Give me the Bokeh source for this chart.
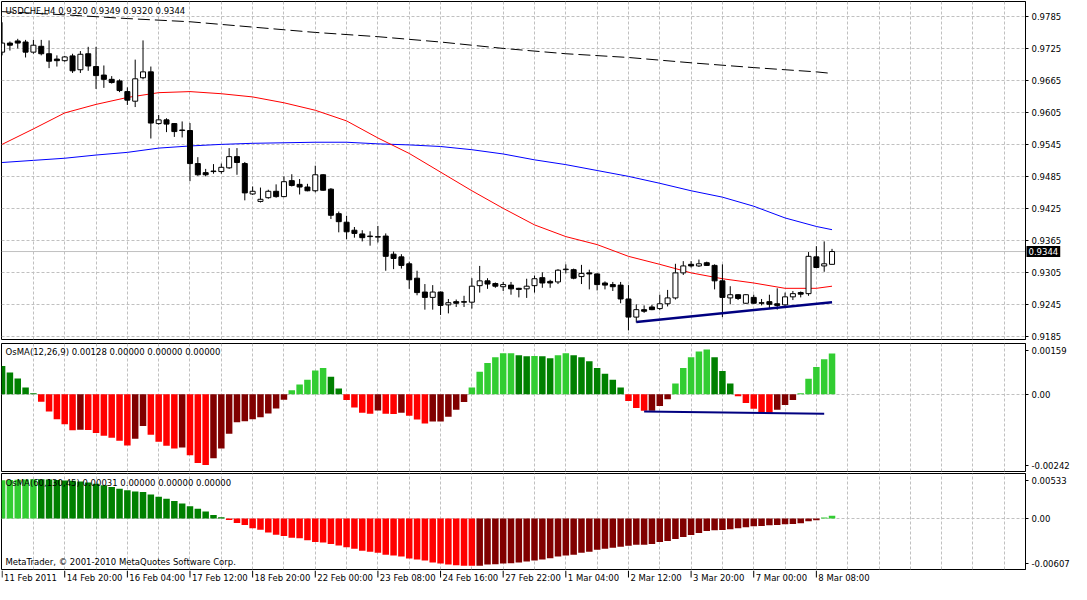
from bokeh.plotting import figure
from bokeh.models import (Range1d, FixedTicker, Grid, LinearAxis, PrintfTickFormatter,
                          Span, Label, ColumnDataSource, GridBox)
from bokeh.core.properties import value
from bokeh.embed import file_html
from bokeh.resources import INLINE

# ---------------- data (USDCHF H4) ----------------
opens = [0.9718, 0.9735, 0.9739, 0.9737, 0.9718, 0.9729, 0.9715, 0.9705, 0.9702, 0.9711,
         0.9685, 0.9715, 0.9691, 0.9675, 0.9667, 0.9664, 0.9644, 0.9626, 0.9670, 0.9681,
         0.9584, 0.9591, 0.9584, 0.9572, 0.9571, 0.9509, 0.9492, 0.9495, 0.9494, 0.9501,
         0.9522, 0.9509, 0.9452, 0.9438, 0.9445, 0.9457, 0.9447, 0.9477, 0.9470, 0.9465,
         0.9458, 0.9488, 0.9461, 0.9415, 0.9399, 0.9384, 0.9377, 0.9373, 0.9371, 0.9373,
         0.9339, 0.9334, 0.9321, 0.9294, 0.9268, 0.9258, 0.9268, 0.9244, 0.9250, 0.9250,
         0.9249, 0.9280, 0.9289, 0.9284, 0.9278, 0.9281, 0.9275, 0.9274, 0.9280, 0.9295,
         0.9288, 0.9287, 0.9310, 0.9310, 0.9297, 0.9304, 0.9302, 0.9285, 0.9282, 0.9281,
         0.9255, 0.9221, 0.9235, 0.9240, 0.9237, 0.9246, 0.9257, 0.9304, 0.9320, 0.9317,
         0.9323, 0.9318, 0.9289, 0.9257, 0.9263, 0.9247, 0.9258, 0.9248, 0.9250, 0.9246,
         0.9244, 0.9259, 0.9267, 0.9265, 0.9334, 0.9317, 0.9320]
highs = [0.9774, 0.9738, 0.9743, 0.9741, 0.9741, 0.9741, 0.9740, 0.9712, 0.9711, 0.9715,
         0.9720, 0.9728, 0.9728, 0.9693, 0.9673, 0.9667, 0.9652, 0.9704, 0.9740, 0.9691,
         0.9600, 0.9594, 0.9585, 0.9588, 0.9585, 0.9521, 0.9499, 0.9508, 0.9509, 0.9538,
         0.9538, 0.9512, 0.9466, 0.9464, 0.9460, 0.9470, 0.9485, 0.9489, 0.9480, 0.9471,
         0.9505, 0.9489, 0.9463, 0.9419, 0.9411, 0.9390, 0.9384, 0.9382, 0.9392, 0.9378,
         0.9344, 0.9339, 0.9325, 0.9308, 0.9283, 0.9281, 0.9269, 0.9255, 0.9254, 0.9261,
         0.9294, 0.9317, 0.9294, 0.9286, 0.9287, 0.9287, 0.9276, 0.9293, 0.9299, 0.9305,
         0.9291, 0.9311, 0.9320, 0.9312, 0.9319, 0.9310, 0.9303, 0.9288, 0.9287, 0.9287,
         0.9281, 0.9245, 0.9243, 0.9244, 0.9263, 0.9272, 0.9321, 0.9326, 0.9326, 0.9329,
         0.9325, 0.9320, 0.9320, 0.9279, 0.9264, 0.9264, 0.9263, 0.9255, 0.9263, 0.9275,
         0.9267, 0.9270, 0.9269, 0.9343, 0.9354, 0.9363, 0.9349]
lows = [0.9712, 0.9721, 0.9725, 0.9708, 0.9715, 0.9712, 0.9688, 0.9691, 0.9700, 0.9679,
        0.9679, 0.9683, 0.9649, 0.9651, 0.9659, 0.9643, 0.9619, 0.9615, 0.9667, 0.9556,
        0.9582, 0.9568, 0.9559, 0.9558, 0.9476, 0.9486, 0.9485, 0.9490, 0.9490, 0.9499,
        0.9488, 0.9440, 0.9450, 0.9436, 0.9443, 0.9445, 0.9446, 0.9466, 0.9451, 0.9457,
        0.9455, 0.9458, 0.9405, 0.9380, 0.9367, 0.9370, 0.9363, 0.9355, 0.9361, 0.9308,
        0.9311, 0.9312, 0.9274, 0.9262, 0.9235, 0.9235, 0.9225, 0.9228, 0.9240, 0.9240,
        0.9237, 0.9267, 0.9274, 0.9276, 0.9270, 0.9263, 0.9258, 0.9257, 0.9267, 0.9276,
        0.9276, 0.9283, 0.9303, 0.9292, 0.9283, 0.9273, 0.9271, 0.9273, 0.9270, 0.9247,
        0.9196, 0.9211, 0.9229, 0.9234, 0.9234, 0.9241, 0.9254, 0.9300, 0.9314, 0.9315,
        0.9317, 0.9273, 0.9221, 0.9245, 0.9253, 0.9246, 0.9246, 0.9243, 0.9238, 0.9235,
        0.9241, 0.9253, 0.9258, 0.9261, 0.9313, 0.9306, 0.9320]
closes = [0.9735, 0.9731, 0.9735, 0.9718, 0.9731, 0.9715, 0.9701, 0.9702, 0.9709, 0.9683,
          0.9714, 0.9692, 0.9674, 0.9667, 0.9661, 0.9646, 0.9628, 0.9668, 0.9681, 0.9585,
          0.9591, 0.9583, 0.9569, 0.9571, 0.9509, 0.9488, 0.9488, 0.9494, 0.9502, 0.9522,
          0.9511, 0.9454, 0.9457, 0.9442, 0.9457, 0.9447, 0.9475, 0.9468, 0.9465, 0.9458,
          0.9488, 0.9459, 0.9412, 0.9400, 0.9381, 0.9378, 0.9370, 0.9372, 0.9372, 0.9335,
          0.9331, 0.9318, 0.9291, 0.9267, 0.9258, 0.9268, 0.9243, 0.9248, 0.9247, 0.9249,
          0.9279, 0.9289, 0.9283, 0.9279, 0.9282, 0.9274, 0.9273, 0.9279, 0.9293, 0.9285,
          0.9285, 0.9309, 0.9311, 0.9294, 0.9303, 0.9302, 0.9282, 0.9281, 0.9278, 0.9255,
          0.9221, 0.9235, 0.9232, 0.9235, 0.9246, 0.9257, 0.9304, 0.9317, 0.9317, 0.9321,
          0.9318, 0.9289, 0.9258, 0.9263, 0.9256, 0.9263, 0.9247, 0.9247, 0.9245, 0.9243,
          0.9259, 0.9265, 0.9264, 0.9335, 0.9314, 0.9321, 0.9344]

# moving averages read at selected bars
ma_bars = [0, 4, 8, 12, 16, 20, 24, 28, 32, 36, 40, 44, 48, 52, 56, 60, 64, 68, 72, 76,
           80, 84, 88, 92, 96, 100, 104, 106]
ma_red = [0.9545, 0.9574, 0.9604, 0.9620, 0.9633, 0.9642, 0.9644, 0.9640, 0.9634, 0.9623,
          0.9609, 0.9589, 0.9557, 0.9528, 0.9493, 0.9458, 0.9425, 0.9394, 0.9372, 0.9357,
          0.9335, 0.9320, 0.9304, 0.9293, 0.9285, 0.9275, 0.9275, 0.9279]
ma_blue = [0.9511, 0.9515, 0.9519, 0.9525, 0.9530, 0.9538, 0.9542, 0.9545, 0.9547, 0.9548,
           0.9549, 0.9549, 0.9546, 0.9544, 0.9541, 0.9535, 0.9527, 0.9516, 0.9507, 0.9496,
           0.9485, 0.9472, 0.9458, 0.9446, 0.9429, 0.9407, 0.9391, 0.9385]
ma_long_bars = [0, 8, 16, 24, 32, 40, 48, 56, 64, 72, 80, 88, 96, 104, 106]
ma_long = [0.9794, 0.9788, 0.9781, 0.9775, 0.9765, 0.9755, 0.9747, 0.9737, 0.9725, 0.9715,
           0.9708, 0.9698, 0.9689, 0.9681, 0.9678]

trend_bars = [81, 106]
trend_price = [0.9212, 0.9249]

osma1 = [0.000885, 0.00068, 0.00049, 0.000214, 0.00003, -0.000235, -0.00054, -0.000783,
         -0.000936, -0.001125, -0.00111, -0.00112, -0.00121, -0.0013, -0.001363, -0.001455,
         -0.001607, -0.001394, -0.000997, -0.001272, -0.001485, -0.00161, -0.0017, -0.00167,
         -0.001912, -0.002156, -0.002217, -0.002004, -0.0017, -0.001241, -0.000875, -0.000845,
         -0.000784, -0.000723, -0.000601, -0.000448, -0.000174, 0.000122, 0.000305, 0.000458,
         0.000742, 0.000824, 0.000549, 0.000183, -0.000178, -0.000418, -0.00058, -0.00061,
         -0.000509, -0.00061, -0.000615, -0.00058, -0.000671, -0.000793, -0.000915, -0.000854,
         -0.00085, -0.000702, -0.000488, -0.000244, 0.000214, 0.000702, 0.000976, 0.001159,
         0.001281, 0.001285, 0.00122, 0.00119, 0.001195, 0.001188, 0.001128, 0.00122,
         0.001281, 0.00122, 0.001159, 0.001037, 0.000824, 0.00064, 0.000458, 0.000214,
         -0.000214, -0.000427, -0.000519, -0.000515, -0.000366, -0.000153, 0.000336, 0.000824,
         0.001159, 0.001342, 0.001403, 0.001159, 0.000732, 0.000336, -0.000061, -0.000275,
         -0.000458, -0.000575, -0.00058, -0.000488, -0.000336, -0.000183, 0.00003, 0.000488,
         0.000854, 0.001098, 0.00128]
osma1_trend_bars = [82, 105]
osma1_trend = [-0.00054, -0.00061]

osma2 = [0.00454, 0.00457, 0.0046, 0.00463, 0.00466, 0.00465, 0.00462, 0.00455, 0.0045, 0.00446,
         0.00439, 0.00427, 0.00411, 0.00392, 0.00372, 0.00353, 0.00334, 0.00318, 0.00312, 0.00283,
         0.00256, 0.00233, 0.00206, 0.00178, 0.00143, 0.00113, 0.00081, 0.00039, 0.00012, -0.0002,
         -0.00054, -0.00078, -0.00116, -0.00136, -0.00167, -0.00194, -0.0021, -0.00229, -0.00237,
         -0.0026, -0.00279, -0.00287, -0.00303, -0.00322, -0.00343, -0.00361, -0.00384, -0.00396,
         -0.00407, -0.00431, -0.00442, -0.00454, -0.00477, -0.00489, -0.005, -0.00524, -0.00535,
         -0.00547, -0.00557, -0.00561, -0.00563, -0.00561, -0.00548, -0.00545, -0.00536, -0.00533,
         -0.00524, -0.00512, -0.005, -0.00489, -0.00473, -0.00454, -0.00442, -0.00431, -0.00407,
         -0.00396, -0.00372, -0.00361, -0.00349, -0.00338, -0.00326, -0.00314, -0.00312, -0.00303,
         -0.00279, -0.00268, -0.00244, -0.00221, -0.00198, -0.00175, -0.00151, -0.0014, -0.00138,
         -0.00128, -0.00116, -0.00105, -0.00093, -0.00091, -0.00081, -0.00079, -0.0007, -0.00068,
         -0.00058, -0.00035, -0.00023, 0.0001, 0.00031]

price_ticks = [0.9185, 0.9245, 0.9305, 0.9365, 0.9425, 0.9485, 0.9545, 0.9605, 0.9665,
               0.9725, 0.9785]
osma1_range = (-0.00242, 0.00159)
osma2_range = (-0.00607, 0.00533)
main_range = (0.9179, 0.9813)

date_bars = [0, 8, 16, 24, 32, 40, 48, 56, 64, 72, 80, 88, 96, 104]
date_labels = ["11 Feb 2011", "14 Feb 20:00", "16 Feb 04:00", "17 Feb 12:00", "18 Feb 20:00",
               "22 Feb 00:00", "23 Feb 08:00", "24 Feb 16:00", "27 Feb 22:00", "1 Mar 04:00",
               "2 Mar 12:00", "3 Mar 20:00", "7 Mar 00:00", "8 Mar 08:00"]

# ---------------- styling ----------------
FONT = "DejaVu Sans"
FS = "8.5px"
GRID = "#c0c0c0"
LIME, GREEN, RED, MAROON = "#32CD32", "#008000", "#FF0000", "#800000"
X0, X1 = -0.075, 130.71
FW = 1024
LB, RB = 1, 46
n = len(opens)
bars = list(range(n))
vgrid = list(range(4, 131, 4))
xr = Range1d(X0, X1)


def make_fig(fh, yr, top=1, bottom=1, outline=True):
    p = figure(frame_width=FW, frame_height=fh, x_range=xr, y_range=yr,
               x_axis_type=None, y_axis_type=None, toolbar_location=None,
               output_backend="svg", min_border_left=LB, min_border_right=RB,
               min_border_top=top, min_border_bottom=bottom)
    p.background_fill_color = "white"
    p.border_fill_color = "white"
    if outline:
        p.outline_line_color = "black"
        p.outline_line_alpha = 1.0
        p.outline_line_width = 1
    else:
        p.outline_line_color = None
    return p


def add_grids(p, yticks):
    p.add_layout(Grid(dimension=0, ticker=FixedTicker(ticks=vgrid), grid_line_color=GRID,
                      grid_line_dash="3 2", grid_line_width=1))
    p.add_layout(Grid(dimension=1, ticker=FixedTicker(ticks=yticks), grid_line_color=GRID,
                      grid_line_dash="3 2", grid_line_width=1))


def right_axis(ticks, formatter=None, overrides=None):
    ax = LinearAxis(ticker=FixedTicker(ticks=ticks), axis_line_color="black",
                    major_tick_line_color="black", major_tick_out=3, major_tick_in=0,
                    minor_tick_line_color=None, major_label_standoff=3,
                    major_label_text_font=FONT, major_label_text_font_size=FS,
                    major_label_text_color="black")
    if formatter is not None:
        ax.formatter = formatter
    if overrides is not None:
        ax.major_label_overrides = overrides
    return ax


def osma_colors(vals):
    cols = []
    for i, v in enumerate(vals):
        d = (vals[1] - vals[0]) if i == 0 else v - vals[i - 1]
        if v >= 0:
            cols.append(LIME if d > 0 else GREEN)
        else:
            cols.append(MAROON if d > 0 else RED)
    return cols


def edge_ticks(yr, fh):
    span = yr[1] - yr[0]
    t_top = round(yr[1] - span * 7.0 / fh, 7)
    t_bot = round(yr[0] + span * 6.0 / fh, 7)
    return t_top, t_bot


# ---------------- main pane ----------------
H1, H2, H3, H4 = 338, 128, 96, 14
yr_main = Range1d(*main_range)
p1 = make_fig(H1, yr_main, top=1, bottom=3)
add_grids(p1, price_ticks)
p1.add_layout(right_axis(price_ticks, PrintfTickFormatter(format="%.4f")), "right")
p1.add_layout(Span(location=closes[-1], dimension="width", line_color=GRID, line_width=1,
                   level="underlay"))

p1.line(ma_long_bars, ma_long, line_color="black", line_width=1, line_dash="12 5")
p1.line(ma_bars, ma_blue, line_color="#0000FF", line_width=1)
p1.line(ma_bars, ma_red, line_color="#FF0000", line_width=1)

csrc = ColumnDataSource(dict(
    x=bars, high=highs, low=lows,
    top=[max(o, c) for o, c in zip(opens, closes)],
    bottom=[min(o, c) for o, c in zip(opens, closes)],
    fill=["white" if c >= o else "black" for o, c in zip(opens, closes)],
))
p1.segment(x0="x", y0="low", x1="x", y1="high", source=csrc, line_color="black", line_width=1)
p1.vbar(x="x", top="top", bottom="bottom", width=0.64, source=csrc, fill_color="fill",
        line_color="black", line_width=1)
p1.line(trend_bars, trend_price, line_color="#000080", line_width=2.5)

p1.add_layout(Label(x=0.45, y=0.9796, text="USDCHF,H4  %.4f %.4f %.4f %.4f" % (
    opens[-1], highs[-1], lows[-1], closes[-1]), text_font=FONT, text_font_size=FS,
    text_color="black", text_baseline="middle"))

# transparent twin of the main pane (same geometry) carrying the current-price marker
pov = make_fig(H1, yr_main, top=1, bottom=3, outline=False)
pov.background_fill_color = None
pov.border_fill_color = None
pov.add_layout(Label(x=X1, y=closes[-1], x_offset=1, text="%.4f" % closes[-1],
                     text_font=FONT, text_font_size=FS, text_color="white",
                     text_baseline="middle", text_align="left",
                     background_fill_color="black", padding=2), "right")

# ---------------- OsMA(12,26,9) ----------------
p2 = make_fig(H2, Range1d(*osma1_range))
add_grids(p2, [0])
t_top, t_bot = edge_ticks(osma1_range, H2)
p2.add_layout(right_axis([t_bot, 0.0, t_top], overrides={
    t_top: "%.5f" % osma1_range[1], 0.0: "0.00", t_bot: "%.5f" % osma1_range[0]}), "right")
p2.vbar(x=bars, top=osma1, bottom=0, width=0.83, fill_color=osma_colors(osma1), line_color=None)
p2.line(osma1_trend_bars, osma1_trend, line_color="#000080", line_width=2)
p2.add_layout(Label(x=0.45, y=0.00131, text="OsMA(12,26,9) %.5f 0.00000 0.00000 0.00000" % osma1[-1],
                    text_font=FONT, text_font_size=FS, text_color="black", text_baseline="middle"))

# ---------------- OsMA(60,130,45) ----------------
p3 = make_fig(H3, Range1d(*osma2_range))
add_grids(p3, [0])
t_top, t_bot = edge_ticks(osma2_range, H3)
p3.add_layout(right_axis([t_bot, 0.0, t_top], overrides={
    t_top: "%.5f" % osma2_range[1], 0.0: "0.00", t_bot: "%.5f" % osma2_range[0]}), "right")
p3.vbar(x=bars, top=osma2, bottom=0, width=0.83, fill_color=osma_colors(osma2), line_color=None)
p3.add_layout(Label(x=0.45, y=0.00419, text="OsMA(60,130,45) %.5f 0.00000 0.00000 0.00000" % osma2[-1],
                    text_font=FONT, text_font_size=FS, text_color="black", text_baseline="middle"))
p3.add_layout(Label(x=0.42, y=-0.00512, text="MetaTrader, \u00a9 2001-2010 MetaQuotes Software Corp.",
                    text_font=FONT, text_font_size=FS, text_color="black", text_baseline="middle"))

# ---------------- time axis strip ----------------
p4 = make_fig(H4, Range1d(0, 1), top=0, bottom=0, outline=False)
p4.segment(x0=date_bars, y0=[1] * len(date_bars), x1=date_bars, y1=[0.5] * len(date_bars),
           line_color="black", line_width=1)
p4.text(x=[b + 0.25 for b in date_bars], y=[0.85] * len(date_bars), text=date_labels,
        text_font=value(FONT), text_font_size=value(FS), text_color="black",
        text_align="left", text_baseline="top")

layout = GridBox(children=[(p1, 0, 0), (pov, 0, 0), (p2, 1, 0), (p3, 2, 0), (p4, 3, 0)],
                 spacing=0)
open("out.html", "w", encoding="utf-8").write(file_html(layout, INLINE))
